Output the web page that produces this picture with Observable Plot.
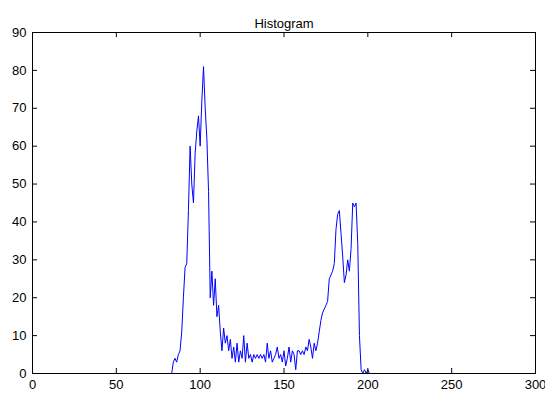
<!DOCTYPE html>
<html>
<head>
<meta charset="utf-8">
<script src="https://cdn.jsdelivr.net/npm/d3@7"></script>
<script src="https://cdn.jsdelivr.net/npm/@observablehq/plot@0.6"></script>
<style>
  html, body { margin: 0; padding: 0; background: #fff; }
  #chart svg { display: block; }
</style>
</head>
<body>
<div id="chart"></div>
<script>
const chartTitle = "Histogram";
const firstBin = 83;
const counts = [
  0, 3, 4, 3, 5, 6, 11, 20, 28, 29,      // 83-92
  43, 60, 50, 45, 58, 64, 68, 60, 72, 81, // 93-102
  70, 62, 48, 20, 27, 18, 25, 15, 18, 11, // 103-112
  6, 12, 8, 10, 6, 9, 4, 7, 3, 8,         // 113-122
  3, 6, 4, 10, 3, 8, 4, 5, 3, 5,          // 123-132
  4, 5, 4, 5, 4, 5, 3, 8, 4, 6,           // 133-142
  3, 4, 5, 7, 4, 5, 3, 6, 2, 4,           // 143-152
  7, 3, 6, 5, 1, 6, 6, 5, 6, 5,           // 153-162
  7, 6, 9, 7, 4, 8, 6, 8, 11, 14,         // 163-172
  16, 17, 18, 19, 25, 26, 27, 29, 38, 42, // 173-182
  43, 37, 31, 24, 26, 30, 27, 33, 45, 44, // 183-192
  45, 34, 10, 1, 0, 1, 0, 1, 0            // 193-201
];
const xTicks = [0, 50, 100, 150, 200, 250, 300];
const yTicks = [0, 10, 20, 30, 40, 50, 60, 70, 80, 90];

const data = counts.map((c, i) => ({bin: firstBin + i, count: c}));

const W = 545, H = 394;
const mL = 32, mR = 10, mT = 32, mB = 21;
const pw = W - mL - mR, ph = H - mT - mB;
const tick = 5;
const fs = 13;

const chart = Plot.plot({
  width: W,
  height: H,
  marginLeft: mL,
  marginRight: mR,
  marginTop: mT,
  marginBottom: mB,
  style: {fontFamily: "'Liberation Sans', Arial, sans-serif", fontSize: fs + "px", background: "#fff", color: "#000"},
  x: {domain: [0, 300], ticks: xTicks},
  y: {domain: [0, 90], ticks: yTicks},
  marks: [
    Plot.lineY(data, {x: "bin", y: "count", stroke: "#0000ff", strokeWidth: 1}),
    Plot.axisX(xTicks, {tickSize: 0, tickPadding: 6, label: null, fill: "#000", fontSize: fs}),
    Plot.axisY(yTicks, {tickSize: 0, tickPadding: 6, label: null, fill: "#000", fontSize: fs}),
    Plot.tickX(xTicks, {x: d => d, insetTop: ph - tick, stroke: "#000"}),
    Plot.tickX(xTicks, {x: d => d, insetBottom: ph - tick, stroke: "#000"}),
    Plot.tickY(yTicks, {y: d => d, insetRight: pw - tick, stroke: "#000"}),
    Plot.tickY(yTicks, {y: d => d, insetLeft: pw - tick, stroke: "#000"}),
    Plot.frame({stroke: "#000", strokeWidth: 1}),
    Plot.text([chartTitle], {frameAnchor: "top", dy: -14, text: d => d, fontSize: fs, fill: "#000"})
  ]
});
document.getElementById("chart").appendChild(chart);
</script>
</body>
</html>
